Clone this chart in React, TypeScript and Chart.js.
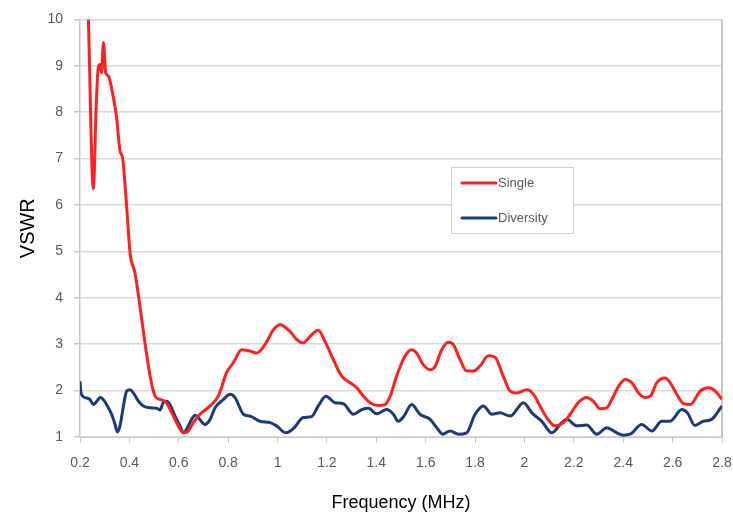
import React, { useEffect, useRef } from "react";
import { Chart, registerables } from "chart.js";

Chart.register(...registerables);

const xTickValues = [0.2, 0.4, 0.6, 0.8, 1.0, 1.2, 1.4, 1.6, 1.8, 2.0, 2.2, 2.4, 2.6, 2.8];
const xTickLabels = ["0.2", "0.4", "0.6", "0.8", "1", "1.2", "1.4", "1.6", "1.8", "2", "2.2", "2.4", "2.6", "2.8"];
const yTickValues = [1, 2, 3, 4, 5, 6, 7, 8, 9, 10];
const yTickLabels = ["1", "2", "3", "4", "5", "6", "7", "8", "9", "10"];

const seriesNames = ["Single", "Diversity"];

const singleFreq = [
  0.234, 0.254, 0.266, 0.274, 0.281, 0.287, 0.295, 0.304, 0.315, 0.335, 0.348, 0.362, 0.373, 0.389,
  0.403, 0.423, 0.443, 0.463, 0.484, 0.504, 0.524, 0.544, 0.558, 0.591, 0.618, 0.632, 0.659, 0.686,
  0.727, 0.76, 0.794, 0.821, 0.855, 0.888, 0.915, 0.949, 0.983, 1.01, 1.051, 1.078, 1.104, 1.132,
  1.165, 1.192, 1.226, 1.26, 1.294, 1.321, 1.348, 1.375, 1.409, 1.436, 1.456, 1.482, 1.516, 1.543,
  1.563, 1.59, 1.618, 1.638, 1.665, 1.692, 1.712, 1.739, 1.766, 1.793, 1.82, 1.854, 1.881, 1.914,
  1.942, 1.969, 2.01, 2.037, 2.063, 2.09, 2.124, 2.158, 2.185, 2.218, 2.252, 2.279, 2.306, 2.333,
  2.354, 2.381, 2.408, 2.435, 2.462, 2.489, 2.51, 2.536, 2.57, 2.59, 2.617, 2.644, 2.671, 2.712,
  2.746, 2.773, 2.8,
];
const singleVswr = [
  10.0, 6.35, 8.2, 8.96, 9.03, 8.85, 9.5, 8.85, 8.78, 8.32, 7.89, 7.17, 7.0, 5.96,
  4.96, 4.53, 3.81, 3.03, 2.31, 1.88, 1.81, 1.77, 1.67, 1.31, 1.1, 1.1, 1.31, 1.49,
  1.67, 1.88, 2.39, 2.6, 2.88, 2.85, 2.81, 2.99, 3.31, 3.42, 3.27, 3.1, 3.03, 3.17,
  3.3, 3.06, 2.67, 2.31, 2.17, 2.06, 1.88, 1.74, 1.68, 1.7, 1.88, 2.31, 2.74, 2.88,
  2.81, 2.56, 2.45, 2.52, 2.88, 3.04, 2.99, 2.67, 2.42, 2.42, 2.53, 2.75, 2.72, 2.31,
  1.99, 1.95, 2.02, 1.92, 1.67, 1.42, 1.24, 1.31, 1.49, 1.74, 1.85, 1.77, 1.61, 1.63,
  1.81, 2.09, 2.24, 2.17, 1.95, 1.85, 1.88, 2.17, 2.27, 2.17, 1.92, 1.72, 1.7, 1.99,
  2.06, 1.99, 1.81,
];

const diversityFreq = [
  0.2, 0.204, 0.22, 0.24, 0.254, 0.268, 0.281, 0.294, 0.315, 0.328, 0.342, 0.351, 0.362, 0.376,
  0.389, 0.403, 0.416, 0.437, 0.456, 0.484, 0.511, 0.524, 0.537, 0.551, 0.564, 0.585, 0.605, 0.619,
  0.632, 0.652, 0.666, 0.679, 0.706, 0.727, 0.747, 0.781, 0.808, 0.828, 0.862, 0.889, 0.929, 0.97,
  0.996, 1.034, 1.064, 1.104, 1.138, 1.165, 1.196, 1.233, 1.266, 1.307, 1.341, 1.368, 1.401, 1.442,
  1.469, 1.489, 1.512, 1.543, 1.577, 1.618, 1.645, 1.669, 1.699, 1.733, 1.766, 1.8, 1.834, 1.868,
  1.901, 1.942, 1.996, 2.03, 2.07, 2.111, 2.151, 2.171, 2.212, 2.252, 2.293, 2.333, 2.374, 2.401,
  2.428, 2.475, 2.516, 2.556, 2.59, 2.637, 2.66, 2.69, 2.724, 2.758, 2.8,
];
const diversityVswr = [
  2.2, 1.95, 1.85, 1.81, 1.7, 1.77, 1.85, 1.81, 1.63, 1.49, 1.27, 1.11, 1.24, 1.67,
  1.99, 2.02, 1.95, 1.77, 1.67, 1.63, 1.62, 1.58, 1.74, 1.77, 1.7, 1.45, 1.24, 1.09,
  1.17, 1.38, 1.47, 1.42, 1.27, 1.38, 1.63, 1.81, 1.92, 1.85, 1.49, 1.45, 1.34, 1.31,
  1.24, 1.09, 1.18, 1.42, 1.44, 1.67, 1.88, 1.74, 1.72, 1.49, 1.59, 1.62, 1.5, 1.59,
  1.49, 1.34, 1.45, 1.7, 1.49, 1.38, 1.2, 1.06, 1.13, 1.06, 1.09, 1.49, 1.67, 1.49,
  1.52, 1.45, 1.74, 1.52, 1.34, 1.09, 1.31, 1.38, 1.24, 1.26, 1.06, 1.2, 1.09, 1.04,
  1.06, 1.27, 1.13, 1.34, 1.34, 1.59, 1.52, 1.25, 1.34, 1.38, 1.67,
];

const RED = "#ff2020";
const BLUE = "#1f3a78";
const GRID = "#d9d9d9";
const AXIS = "#c8c8c8";
const LABEL = "#595959";
const FONT = "'Liberation Sans', Arial, sans-serif";

const frameAndLegend = {
  id: "frameAndLegend",
  beforeDatasetsDraw(chart: any) {
    const { ctx, chartArea } = chart;
    ctx.save();
    ctx.strokeStyle = AXIS;
    ctx.lineWidth = 2;
    ctx.beginPath();
    ctx.moveTo(chartArea.right, chartArea.top);
    ctx.lineTo(chartArea.right, chartArea.bottom);
    ctx.stroke();
    ctx.restore();
  },
  afterDatasetsDraw(chart: any, _args: any, opts: any) {
    const { ctx } = chart;
    const { x, y, w, h, rowH, first } = opts;
    ctx.save();
    ctx.fillStyle = "#ffffff";
    ctx.fillRect(x, y, w, h);
    ctx.strokeStyle = "#d0d0d0";
    ctx.lineWidth = 1;
    ctx.strokeRect(x + 0.5, y + 0.5, w, h);
    ctx.font = `13px ${FONT}`;
    ctx.textBaseline = "middle";
    chart.data.datasets.forEach((ds: any, i: number) => {
      const cy = y + first + i * rowH;
      ctx.strokeStyle = ds.borderColor;
      ctx.lineWidth = 3;
      ctx.lineCap = "round";
      ctx.beginPath();
      ctx.moveTo(x + 11, cy);
      ctx.lineTo(x + 45, cy);
      ctx.stroke();
      ctx.fillStyle = LABEL;
      ctx.fillText(ds.label, x + 47, cy);
    });
    ctx.restore();
  },
};

export default function App() {
  const ref = useRef<HTMLCanvasElement | null>(null);

  useEffect(() => {
    document.body.style.margin = "0";
    const canvas = ref.current;
    if (!canvas) return;
    const chart = new Chart(canvas, {
      type: "line",
      data: {
        datasets: [
          {
            label: seriesNames[0],
            data: singleFreq.map((f, i) => ({ x: f, y: singleVswr[i] })),
            borderColor: RED,
            borderWidth: 3,
            pointRadius: 0,
            cubicInterpolationMode: "monotone",
            fill: false,
          },
          {
            label: seriesNames[1],
            data: diversityFreq.map((f, i) => ({ x: f, y: diversityVswr[i] })),
            borderColor: BLUE,
            borderWidth: 3,
            pointRadius: 0,
            cubicInterpolationMode: "monotone",
            fill: false,
          },
        ],
      },
      options: {
        animation: false,
        responsive: false,
        devicePixelRatio: 1,
        layout: { padding: { left: 0, right: 11, top: 18, bottom: 0 } },
        plugins: {
          legend: { display: false },
          tooltip: { enabled: false },
          frameAndLegend: { x: 451, y: 167, w: 122, h: 66, rowH: 35, first: 16 },
        } as any,
        scales: {
          x: {
            type: "linear",
            min: 0.2,
            max: 2.8,
            afterBuildTicks: (s: any) => {
              s.ticks = xTickValues.map((v) => ({ value: v }));
            },
            afterFit: (s: any) => {
              s.height = 80;
              s.paddingLeft = 0;
              s.paddingRight = 0;
            },
            grid: {
              drawOnChartArea: false,
              drawTicks: true,
              tickLength: 6,
              tickColor: AXIS,
            },
            border: { display: true, color: AXIS, width: 1 },
            ticks: {
              padding: 12,
              maxRotation: 0,
              autoSkip: false,
              color: LABEL,
              font: { family: FONT, size: 14 },
              callback: (_v: any, i: number) => xTickLabels[i],
            },
            title: {
              display: true,
              text: "Frequency (MHz)",
              color: "#000000",
              font: { family: FONT, size: 18 },
              padding: { top: 4, bottom: 3 },
            },
          },
          y: {
            type: "linear",
            min: 1,
            max: 10,
            afterBuildTicks: (s: any) => {
              s.ticks = yTickValues.map((v) => ({ value: v }));
            },
            afterFit: (s: any) => {
              s.width = 80;
            },
            grid: {
              color: GRID,
              lineWidth: 1.5,
              drawTicks: true,
              tickLength: 6,
              tickColor: AXIS,
            },
            border: { display: true, color: AXIS, width: 1.5 },
            ticks: {
              padding: 11,
              color: LABEL,
              font: { family: FONT, size: 14 },
              callback: (_v: any, i: number) => yTickLabels[i],
            },
            title: {
              display: true,
              text: "VSWR",
              color: "#000000",
              font: { family: FONT, size: 20 },
              padding: { top: 16, bottom: 0 },
            },
          },
        },
      },
      plugins: [frameAndLegend],
    });
    return () => chart.destroy();
  }, []);

  return (
    <div style={{ width: 733, height: 517 }}>
      <canvas ref={ref} width={733} height={517} style={{ display: "block" }} />
    </div>
  );
}
